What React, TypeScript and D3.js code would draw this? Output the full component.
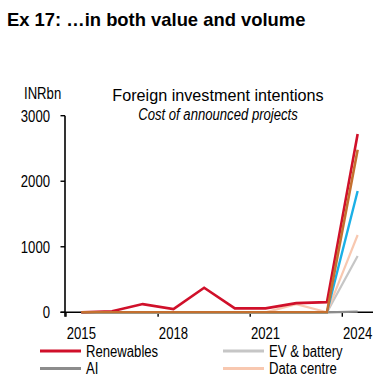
import React from "react";
import * as d3 from "d3";

const years = [2015, 2016, 2017, 2018, 2019, 2020, 2021, 2022, 2023, 2024];
const renewables = [0, 15, 125, 50, 375, 60, 60, 140, 155, 2720];
const orangeSeries = [0, 0, 0, 0, 0, 0, 0, 0, 0, 2480];
const cyanSeries = [0, 0, 0, 0, 0, 0, 0, 0, 0, 1850];
const evBattery = [0, 0, 0, 0, 0, 0, 0, 0, 0, 860];
const ai = [0, 0, 0, 0, 0, 0, 0, 0, 0, 10];
const dataCentre = [0, 0, 0, 0, 0, 0, 0, 125, 0, 1180];
const yTicks = [0, 1000, 2000, 3000];
const xTickYears = [2015, 2018, 2021, 2024];

const W = 388;
const H = 379;
const FONT = "'Liberation Sans', Arial, sans-serif";
const NARROW = 0.82;

const series = [
  { name: "AI", values: ai, color: "#8c8c8c", width: 2.2 },
  { name: "EV & battery", values: evBattery, color: "#c6c6c6", width: 2.2 },
  { name: "Data centre", values: dataCentre, color: "#f8c8b0", width: 2.2 },
  { name: "Cyan", values: cyanSeries, color: "#1bb0e6", width: 2.4 },
  { name: "Renewables", values: renewables, color: "#d0102a", width: 2.6 },
  { name: "Orange", values: orangeSeries, color: "#c4702f", width: 2.6 },
];

const legendItems = [
  { name: "Renewables", color: "#d0102a", col: 0, row: 0 },
  { name: "EV & battery", color: "#c6c6c6", col: 1, row: 0 },
  { name: "AI", color: "#8c8c8c", col: 0, row: 1 },
  { name: "Data centre", color: "#f8c8b0", col: 1, row: 1 },
];

function NText(props: { x: number; y: number; anchor?: string; size?: number; italic?: boolean; children: React.ReactNode }) {
  const { x, y, anchor = "start", size = 16, italic = false, children } = props;
  return (
    <text
      transform={`translate(${x},${y}) scale(${NARROW},1)`}
      textAnchor={anchor}
      fontFamily={FONT}
      fontSize={size}
      fontStyle={italic ? "italic" : "normal"}
      fill="#000"
    >
      {children}
    </text>
  );
}

export default function App() {
  const x = d3.scaleBand<number>().domain(years).range([66, 373]).padding(0);
  const y = d3.scaleLinear().domain([0, 3000]).range([312.3, 115.7]);
  const cx = (yr: number) => (x(yr) as number) + x.bandwidth() / 2;
  const line = d3
    .line<number>()
    .x((_, i) => cx(years[i]))
    .y((v) => y(v));

  const x0 = 65;
  const y0 = y(0);

  return (
    <svg width={W} height={H} style={{ position: "absolute", left: 0, top: 0, background: "#fff" }}>
      <text x={7} y={26} fontFamily={FONT} fontWeight="bold" fontSize={18.4} fill="#000">
        Ex 17: …in both value and volume
      </text>

      <NText x={24} y={99}>INRbn</NText>
      <text x={218} y={101} textAnchor="middle" fontFamily={FONT} fontSize={16.2} fill="#000">
        Foreign investment intentions
      </text>
      <NText x={218} y={119.5} anchor="middle" italic>
        Cost of announced projects
      </NText>

      {/* y axis */}
      <line x1={x0} x2={x0} y1={y(3000)} y2={y0 + 4.5} stroke="#000" strokeWidth={1.6} />
      {yTicks.map((t) => (
        <g key={t}>
          <line x1={x0 - 4.5} x2={x0} y1={y(t)} y2={y(t)} stroke="#000" strokeWidth={1.4} />
          <NText x={50} y={y(t) + 5.8} anchor="end">{t}</NText>
        </g>
      ))}

      {/* x axis */}
      <line x1={x0 - 4.5} x2={373} y1={y0} y2={y0} stroke="#000" strokeWidth={1.6} />
      {xTickYears.map((yr) => (
        <g key={yr}>
          <line x1={x(yr) as number} x2={x(yr) as number} y1={y0} y2={y0 + 4.5} stroke="#000" strokeWidth={1.4} />
          <NText x={cx(yr)} y={339} anchor="middle">{yr}</NText>
        </g>
      ))}

      {/* series */}
      {series.map((s) => (
        <path
          key={s.name}
          d={line(s.values) || ""}
          fill="none"
          stroke={s.color}
          strokeWidth={s.width}
          strokeLinejoin="miter"
        />
      ))}

      {/* legend */}
      {legendItems.map((it) => {
        const lx = it.col === 0 ? 40 : 223;
        const ly = it.row === 0 ? 351 : 368.5;
        return (
          <g key={it.name}>
            <line x1={lx} x2={lx + 41} y1={ly} y2={ly} stroke={it.color} strokeWidth={3} />
            <NText x={lx + 46} y={ly + 5.5}>{it.name}</NText>
          </g>
        );
      })}
    </svg>
  );
}
